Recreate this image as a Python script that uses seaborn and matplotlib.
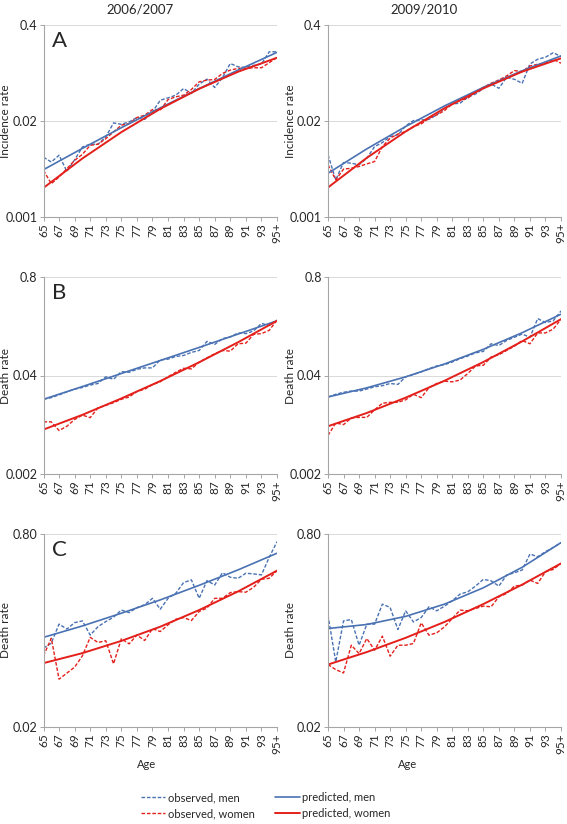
import matplotlib
matplotlib.use("Agg")
import matplotlib.pyplot as plt
from matplotlib.lines import Line2D
import pandas as pd
import seaborn as sns

# age categories on the x axis
AGES = [str(a) for a in range(65, 95)] + ["95+"]
PRED_AGES = ["65", "70", "75", "80", "85", "90", "95+"]

# Panel A: incidence rate
inc_0607_men_obs = [0.0064, 0.0055, 0.0068, 0.0041, 0.0059, 0.0088, 0.0096, 0.0096, 0.0120, 0.0187,
                    0.0179, 0.0193, 0.0221, 0.0209, 0.0264, 0.0380, 0.0409, 0.0445, 0.0548, 0.0469,
                    0.0628, 0.0735, 0.0566, 0.0774, 0.120, 0.108, 0.106, 0.113, 0.118, 0.173, 0.173]
inc_0607_women_obs = [0.00424, 0.00279, 0.00344, 0.00446, 0.00579, 0.0070, 0.00927, 0.0096, 0.0114, 0.0141,
                      0.0174, 0.0183, 0.0221, 0.0238, 0.0284, 0.0278, 0.0388, 0.0423, 0.0445, 0.0532,
                      0.0676, 0.0713, 0.0728, 0.0879, 0.0975, 0.103, 0.103, 0.105, 0.105, 0.123, 0.145]
inc_0607_men_pred = [0.00433, 0.00843, 0.0161, 0.0299, 0.0547, 0.0975, 0.170]
inc_0607_women_pred = [0.00245, 0.00615, 0.0140, 0.0290, 0.0543, 0.0927, 0.1435]

inc_0910_men_obs = [0.00687, 0.00315, 0.00541, 0.0053, 0.00504, 0.00619, 0.00891, 0.0101, 0.0122, 0.0129,
                    0.0170, 0.0201, 0.0205, 0.0209, 0.0240, 0.0296, 0.0339, 0.0346, 0.0417, 0.0462,
                    0.0547, 0.0632, 0.0552, 0.0780, 0.0731, 0.0646, 0.118, 0.137, 0.146, 0.168, 0.149]
inc_0910_women_obs = [0.00504, 0.00315, 0.0044, 0.00453, 0.00478, 0.00519, 0.00558, 0.00891, 0.0116, 0.0132,
                      0.0143, 0.0167, 0.0181, 0.0216, 0.0240, 0.0275, 0.0339, 0.0376, 0.0405, 0.0492,
                      0.0570, 0.0646, 0.0716, 0.0813, 0.0960, 0.0931, 0.111, 0.117, 0.121, 0.137, 0.121]
inc_0910_men_pred = [0.00387, 0.0083, 0.0167, 0.0318, 0.0568, 0.0956, 0.152]
inc_0910_women_pred = [0.00248, 0.00627, 0.0143, 0.0296, 0.0551, 0.0929, 0.141]

# Panel B: death rate
dth_0607_men_obs = [0.0194, 0.0204, 0.0222, 0.0243, 0.0264, 0.0278, 0.0299, 0.0314, 0.0385, 0.0356,
                    0.0450, 0.0441, 0.0483, 0.0504, 0.0504, 0.0644, 0.0658, 0.0713, 0.0736, 0.0807,
                    0.0857, 0.113, 0.103, 0.123, 0.129, 0.146, 0.143, 0.155, 0.195, 0.183, 0.216]
dth_0607_women_obs = [0.00977, 0.00977, 0.0075, 0.00855, 0.0105, 0.0120, 0.0111, 0.0150, 0.0161, 0.0175,
                      0.0194, 0.0208, 0.0246, 0.0264, 0.0302, 0.0331, 0.0385, 0.0441, 0.0498, 0.0489,
                      0.0600, 0.0684, 0.0774, 0.0857, 0.0839, 0.105, 0.107, 0.140, 0.143, 0.158, 0.216]
dth_0607_men_pred = [0.0194, 0.0286, 0.0425, 0.0631, 0.0940, 0.141, 0.211]
dth_0607_women_pred = [0.00773, 0.0121, 0.0199, 0.0338, 0.0598, 0.110, 0.211]

dth_0910_men_obs = [0.0208, 0.0226, 0.0240, 0.0249, 0.0249, 0.0265, 0.0284, 0.0293, 0.0314, 0.0305,
                    0.0384, 0.0412, 0.0447, 0.0493, 0.0535, 0.0556, 0.0603, 0.0667, 0.0723, 0.0798,
                    0.0832, 0.105, 0.0995, 0.116, 0.128, 0.141, 0.128, 0.226, 0.200, 0.211, 0.285]
dth_0910_women_obs = [0.00646, 0.00944, 0.00898, 0.0110, 0.0112, 0.0112, 0.0141, 0.0172, 0.0177, 0.0177,
                      0.0191, 0.0226, 0.0204, 0.0276, 0.0314, 0.0337, 0.0330, 0.0348, 0.0425, 0.0535,
                      0.0546, 0.0702, 0.0752, 0.0857, 0.0975, 0.116, 0.105, 0.146, 0.146, 0.164, 0.222]
dth_0910_men_pred = [0.0208, 0.0275, 0.0384, 0.0568, 0.0887, 0.147, 0.258]
dth_0910_women_pred = [0.00855, 0.0128, 0.0204, 0.0341, 0.0603, 0.113, 0.222]

# Panel C: death rate
dthc_0607_men_obs = [0.0903, 0.0993, 0.143, 0.130, 0.147, 0.152, 0.116, 0.136, 0.150, 0.163,
                     0.187, 0.178, 0.196, 0.207, 0.234, 0.190, 0.234, 0.258, 0.316, 0.333,
                     0.234, 0.328, 0.302, 0.382, 0.350, 0.343, 0.378, 0.373, 0.366, 0.512, 0.691]
dthc_0607_women_obs = [0.0780, 0.109, 0.0499, 0.0560, 0.0628, 0.0780, 0.111, 0.1006, 0.104, 0.0669,
                       0.108, 0.0980, 0.116, 0.1045, 0.131, 0.124, 0.141, 0.157, 0.162, 0.153,
                       0.182, 0.194, 0.234, 0.234, 0.261, 0.266, 0.263, 0.289, 0.337, 0.343, 0.397]
dthc_0607_men_pred = [0.111, 0.138, 0.176, 0.227, 0.300, 0.403, 0.554]
dthc_0607_women_pred = [0.0678, 0.0821, 0.1037, 0.136, 0.187, 0.267, 0.397]

dthc_0910_men_obs = [0.1696, 0.0694, 0.152, 0.156, 0.0955, 0.1428, 0.1428, 0.2094, 0.1965, 0.129,
                     0.1843, 0.149, 0.162, 0.199, 0.1843, 0.2015, 0.2233, 0.2536, 0.2652, 0.2955,
                     0.336, 0.327, 0.2955, 0.365, 0.3816, 0.4016, 0.5453, 0.518, 0.5703, 0.6196, 0.678]
dthc_0910_women_obs = [0.0660, 0.0599, 0.0562, 0.0955, 0.0814, 0.1085, 0.0868, 0.1135, 0.0774, 0.0955,
                       0.0955, 0.0986, 0.1464, 0.1157, 0.121, 0.1357, 0.159, 0.1867, 0.1843, 0.1928,
                       0.2015, 0.199, 0.241, 0.2569, 0.2955, 0.301, 0.3316, 0.311, 0.389, 0.4067, 0.456]
dthc_0910_men_pred = [0.1314, 0.1419, 0.1657, 0.2094, 0.2862, 0.4236, 0.678]
dthc_0910_women_pred = [0.0660, 0.0838, 0.110, 0.149, 0.2096, 0.304, 0.456]

COL_TITLES = ["2006/2007", "2009/2010"]

sns.set_style("white")
plt.rcParams["font.family"] = ["Lato", "DejaVu Sans"]

BLUE = "#4a72b3"
RED = "#e3201b"
AXIS_GREY = "#a6a6a6"
GRID_GREY = "#d9d9d9"

W, H = 567, 824
fig = plt.figure(figsize=(W / 100, H / 100), dpi=100)

col_x = [(43.5, 233.5), (328, 233)]
row_y = [(25, 216.5), (277, 474), (534, 727)]

panels = [
    dict(letter="A", ylabel="Incidence rate", ylim=(0.001, 0.4),
         ticks=[0.001, 0.02, 0.4], labels=["0.001", "0.02", "0.4"],
         data=[(inc_0607_men_obs, inc_0607_women_obs, inc_0607_men_pred, inc_0607_women_pred),
               (inc_0910_men_obs, inc_0910_women_obs, inc_0910_men_pred, inc_0910_women_pred)]),
    dict(letter="B", ylabel="Death rate", ylim=(0.002, 0.8),
         ticks=[0.002, 0.04, 0.8], labels=["0.002", "0.04", "0.8"],
         data=[(dth_0607_men_obs, dth_0607_women_obs, dth_0607_men_pred, dth_0607_women_pred),
               (dth_0910_men_obs, dth_0910_women_obs, dth_0910_men_pred, dth_0910_women_pred)]),
    dict(letter="C", ylabel="Death rate", ylim=(0.02, 0.8),
         ticks=[0.02, 0.8], labels=["0.02", "0.80"],
         data=[(dthc_0607_men_obs, dthc_0607_women_obs, dthc_0607_men_pred, dthc_0607_women_pred),
               (dthc_0910_men_obs, dthc_0910_women_obs, dthc_0910_men_pred, dthc_0910_women_pred)]),
]

obs_x = list(range(len(AGES)))
pred_x = [AGES.index(a) for a in PRED_AGES]
obs_dash = (2.6, 1.3)

for r, p in enumerate(panels):
    top, bot = row_y[r]
    for c in range(2):
        x0, w = col_x[c]
        ax = fig.add_axes([x0 / W, 1 - bot / H, w / W, (bot - top) / H])
        men_obs, women_obs, men_pred, women_pred = p["data"][c]

        sns.lineplot(x=obs_x, y=men_obs, ax=ax, color=BLUE, lw=1.0)
        sns.lineplot(x=obs_x, y=women_obs, ax=ax, color=RED, lw=1.0)
        ax.lines[0].set_dashes(obs_dash)
        ax.lines[1].set_dashes(obs_dash)
        sns.lineplot(x=pred_x, y=men_pred, ax=ax, color=BLUE, lw=1.2)
        sns.lineplot(x=pred_x, y=women_pred, ax=ax, color=RED, lw=1.4)

        ax.set_yscale("log")
        ax.set_ylim(*p["ylim"])
        ax.set_xlim(0, len(AGES) - 1)
        ax.set_yticks(p["ticks"])
        ax.set_yticklabels(p["labels"], fontsize=9)
        ax.yaxis.set_minor_locator(matplotlib.ticker.NullLocator())
        ax.set_xticks(obs_x[::2])
        ax.set_xticklabels(AGES[::2], rotation=90, fontsize=8.5)
        ax.set_xlabel("")
        ax.set_ylabel("")
        for t in p["ticks"][1:]:
            ax.axhline(t, color=GRID_GREY, lw=0.7, zorder=0)
        for s in ["top", "right"]:
            ax.spines[s].set_visible(False)
        for s in ["left", "bottom"]:
            ax.spines[s].set_color(AXIS_GREY)
            ax.spines[s].set_linewidth(0.8)
        ax.tick_params(axis="both", which="major", length=3, width=0.7, color=AXIS_GREY,
                       pad=1.5, left=True, bottom=True)

        fig.text((x0 - 37.5) / W, 1 - (top + bot) / 2 / H, p["ylabel"], rotation=90,
                 ha="center", va="center", fontsize=8.5)
        if c == 0:
            ax.text(0.035, 0.97, p["letter"], transform=ax.transAxes, fontsize=16,
                    ha="left", va="top")
        if r == 0:
            fig.text((x0 + w / 2 - 20) / W, 1 - 9 / H, COL_TITLES[c], ha="center",
                     va="center", fontsize=9.5)

fig.text(147 / W, 1 - 765 / H, "Age", ha="center", va="center", fontsize=8)
fig.text(408 / W, 1 - 765 / H, "Age", ha="center", va="center", fontsize=8)

handles = [
    Line2D([], [], color=BLUE, lw=1.0, dashes=obs_dash),
    Line2D([], [], color=RED, lw=1.0, dashes=obs_dash),
    Line2D([], [], color=BLUE, lw=1.2),
    Line2D([], [], color=RED, lw=1.4),
]
labels = ["observed, men", "observed, women", "predicted, men", "predicted, women"]
fig.legend(handles, labels, ncol=2, loc="upper left", bbox_to_anchor=(131 / W, 1 - 782 / H),
           frameon=False, fontsize=8, handlelength=2.2, handletextpad=0.25,
           columnspacing=1.8, labelspacing=0.45)

fig.savefig("out.png", dpi=100)
